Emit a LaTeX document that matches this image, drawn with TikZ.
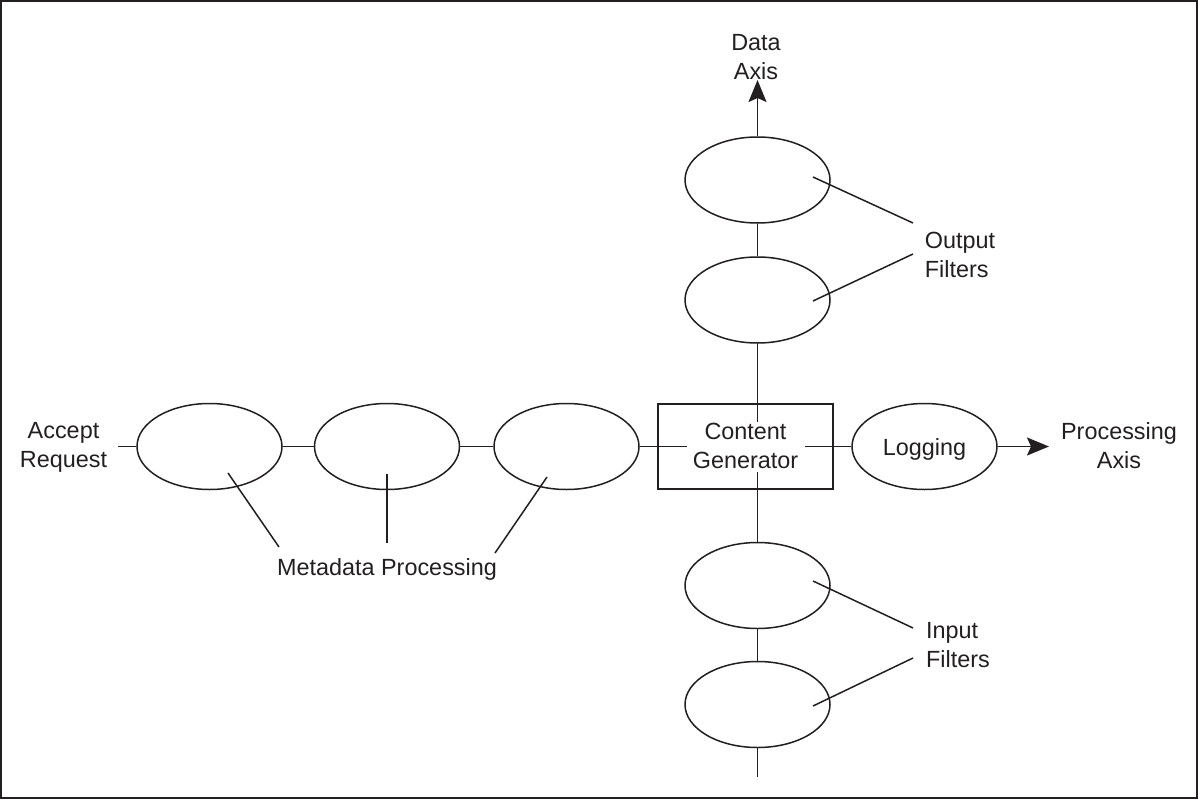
\documentclass[tikz,border=0pt]{standalone}
\usepackage{fontspec}
\setmainfont{Liberation Sans}
\usetikzlibrary{shapes.geometric,arrows.meta}
\definecolor{ink}{HTML}{231F20}
\tikzset{
  stage/.style={ellipse, draw=ink, line width=1.5pt, minimum width=145pt, minimum height=86pt, inner sep=0pt},
  genbox/.style={rectangle, draw=ink, line width=2pt, minimum width=175pt, minimum height=85pt, inner sep=0pt},
  lbl/.style={align=center, inner sep=0pt, text=ink, font=\fontsize{23.4}{29}\selectfont},
  wire/.style={draw=ink, line width=1.8pt},
  leader/.style={draw=ink, line width=1.5pt},
  axis/.style={wire, -{Stealth[length=22pt, width=18pt, inset=4pt]}}
}
\begin{document}
\begin{tikzpicture}[x=1pt, y=-1pt]
  \useasboundingbox (0,0) rectangle (1198,800);
  \draw[ink, line width=1.5pt] (1,1) rectangle (1197,798);

  % metadata processing stages along the processing axis
  \node[stage] (m1) at (209.5,446.5) {};
  \node[stage] (m2) at (387,446.5) {};
  \node[stage] (m3) at (566.5,446.5) {};
  \node[genbox] (cg) at (745.5,446.5) {};
  \node[lbl] (cgt) at (745.5,446) {Content\\Generator};
  \node[stage] (log) at (924.5,446.5) {};
  \node[lbl] (logt) at (924.5,449) {Logging};

  % output filters above, input filters below
  \node[stage] (o1) at (757.5,180) {};
  \node[stage] (o2) at (757.5,300) {};
  \node[stage] (i1) at (757.5,585.5) {};
  \node[stage] (i2) at (757.5,704.5) {};

  % labels
  \node[lbl] (accept) at (63.5,447) {Accept\\Request};
  \node[lbl] (procaxis) at (1119,446) {Processing\\Axis};
  \node[lbl] (dataaxis) at (756,57) {Data\\Axis};
  \node[lbl, align=left] (outf) at (960,255) {Output\\Filters};
  \node[lbl, align=left] (inf) at (958,645) {Input\\Filters};
  \node[lbl] (meta) at (387,569) {Metadata Processing};

  % free ends of the axes
  \coordinate (inStart) at (118,446.5);
  \coordinate (procTip) at (1049,446.5);
  \coordinate (dataTip) at (757.5,80);
  \coordinate (dataEnd) at (757.5,777);
  \coordinate (cgW) at (687,446.5);
  \coordinate (cgE) at (805,446.5);
  \coordinate (cgN) at (757.5,422);
  \coordinate (cgS) at (757.5,472);

  % processing axis
  \draw[wire] (inStart) -- (m1.west);
  \draw[wire] (m1.east) -- (m2.west);
  \draw[wire] (m2.east) -- (m3.west);
  \draw[wire] (m3.east) -- (cgW);
  \draw[wire] (cgE) -- (log.west);
  \draw[axis] (log.east) -- (procTip);

  % data axis
  \draw[axis] (o1.north) -- (dataTip);
  \draw[wire] (o2.north) -- (o1.south);
  \draw[wire] (cgN) -- (o2.south);
  \draw[wire] (cgS) -- (i1.north);
  \draw[wire] (i1.south) -- (i2.north);
  \draw[wire] (i2.south) -- (dataEnd);

  % leader lines
  \coordinate (m1p) at (228,473);
  \coordinate (m1q) at (279,547);
  \coordinate (m2p) at (387,474);
  \coordinate (m2q) at (387,543);
  \coordinate (m3p) at (547,477);
  \coordinate (m3q) at (495,553);
  \draw[leader] (m1p) -- (m1q);
  \draw[leader] (m2p) -- (m2q);
  \draw[leader] (m3p) -- (m3q);

  \coordinate (o1p) at (813,177);
  \coordinate (o1q) at (913,223);
  \coordinate (o2p) at (813,301);
  \coordinate (o2q) at (913,254);
  \draw[leader] (o1p) -- (o1q);
  \draw[leader] (o2p) -- (o2q);

  \coordinate (i1p) at (813,581);
  \coordinate (i1q) at (913,628);
  \coordinate (i2p) at (813,706);
  \coordinate (i2q) at (913,658);
  \draw[leader] (i1p) -- (i1q);
  \draw[leader] (i2p) -- (i2q);
\end{tikzpicture}
\end{document}
